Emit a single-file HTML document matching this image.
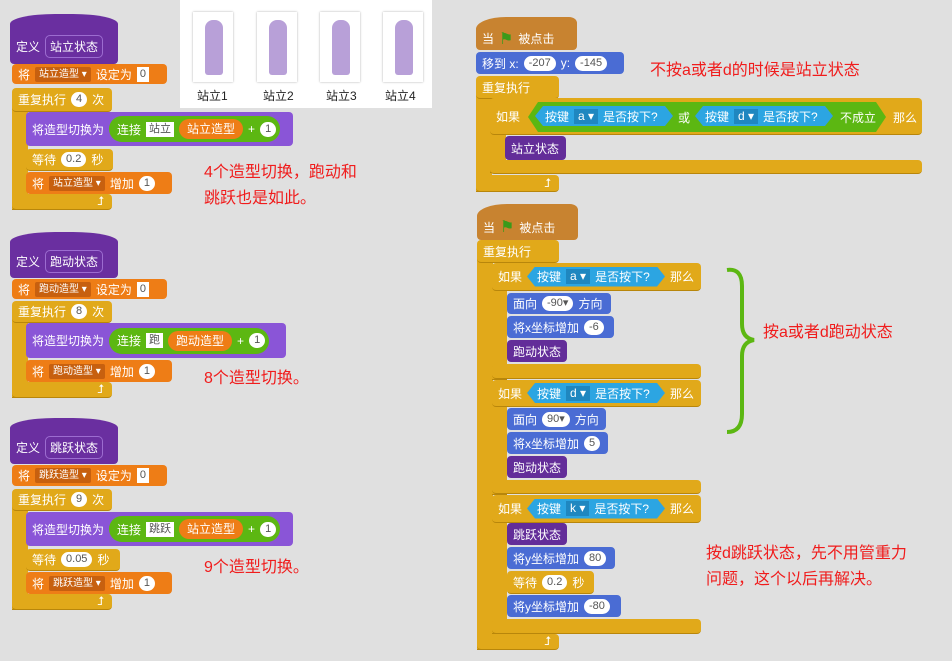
<!DOCTYPE html><html><head><meta charset="utf-8"><style>
body{margin:0;width:952px;height:661px;background:#e0e0e0;position:relative;overflow:hidden;font-family:"Liberation Sans","Noto Sans CJK SC",sans-serif;font-size:12px;color:#fff}
div,span{box-sizing:border-box}
.a{position:absolute}
.b{position:absolute;border-radius:4px;display:flex;align-items:center;padding-left:6px;white-space:nowrap;gap:5px;z-index:1}
.ctl{background:#e1a91a;border-bottom:1px solid #b8860b}
.var{background:#ee7d16}
.def{background:#6a2fa0}
.lk{background:#8a55d7}
.mo{background:#4a6cd4}
.ev{background:#c88330}
.cs{background:#632d99}
.n{background:#fff;color:#555;border-radius:8px;padding:0 5px;height:15px;line-height:15px;font-size:11px}
.sq{background:#fff;color:#555;padding:0 3px;height:15px;line-height:15px;font-size:11px}
.dd{background:#c7600f;color:#fff;padding:0 4px;height:15px;line-height:15px;font-size:10px;border-radius:2px}
.gr{background:#5cb712;border-radius:14px;height:26px;display:flex;align-items:center;padding:0 4px 0 8px;gap:5px}
.op{background:#ee7d16;border-radius:11px;height:20px;line-height:20px;padding:0 8px}
.sn{background:#2ca5e2;height:20px;display:flex;align-items:center;gap:5px;padding:0 10px;clip-path:polygon(8px 0,calc(100% - 8px) 0,100% 50%,calc(100% - 8px) 100%,8px 100%,0 50%)}
.kd{background:#1f87c0;padding:0 4px;height:15px;line-height:15px}
.red{position:absolute;color:#f01c1c;font-size:16px;line-height:26px}
</style></head><body>
<!-- pictures -->
<div class="a" style="left:180px;top:0;width:252px;height:108px;background:#fff"></div>
<div class="a" style="left:193px;top:12px;width:40px;height:70px;background:#fff;box-shadow:0 0 2px #aaa"></div>
<div class="a" style="left:257px;top:12px;width:40px;height:70px;background:#fff;box-shadow:0 0 2px #aaa"></div>
<div class="a" style="left:320px;top:12px;width:40px;height:70px;background:#fff;box-shadow:0 0 2px #aaa"></div>
<div class="a" style="left:383px;top:12px;width:40px;height:70px;background:#fff;box-shadow:0 0 2px #aaa"></div>
<div class="a" style="left:205px;top:20px;width:18px;height:55px;background:#b8a0d8;border-radius:8px 8px 3px 3px"></div>
<div class="a" style="left:269px;top:20px;width:18px;height:55px;background:#b8a0d8;border-radius:8px 8px 3px 3px"></div>
<div class="a" style="left:332px;top:20px;width:18px;height:55px;background:#b8a0d8;border-radius:8px 8px 3px 3px"></div>
<div class="a" style="left:395px;top:20px;width:18px;height:55px;background:#b8a0d8;border-radius:8px 8px 3px 3px"></div>
<div class="a" style="left:197px;top:87px;color:#222">站立1</div>
<div class="a" style="left:263px;top:87px;color:#222">站立2</div>
<div class="a" style="left:326px;top:87px;color:#222">站立3</div>
<div class="a" style="left:385px;top:87px;color:#222">站立4</div>

<!-- script 1 -->
<div class="b def" style="left:10px;top:14px;width:108px;height:50px;border-radius:45px 45px 4px 4px / 10px 10px 4px 4px;padding-top:14px">定义<span style="border:1px solid #9c6cd0;border-radius:5px;padding:2px 4px">站立状态</span></div>
<div class="b var" style="left:12px;top:64px;width:155px;height:20px">将 <span class="dd">站立造型 ▾</span>设定为<span class="sq">0</span></div>
<div class="b ctl" style="left:12px;top:88px;width:100px;height:24px">重复执行<span class="n">4</span>次</div>
<div class="a ctl" style="left:12px;top:100px;width:16px;height:110px"></div>
<div class="b ctl" style="left:12px;top:194px;width:100px;height:16px;justify-content:flex-end;padding-right:8px">⮥</div>
<div class="b lk" style="left:26px;top:112px;width:267px;height:34px">将造型切换为<div class="gr">连接<span class="sq">站立</span><span class="op">站立造型</span>+<span class="n">1</span></div></div>
<div class="b ctl" style="left:26px;top:149px;width:87px;height:22px">等待<span class="n">0.2</span>秒</div>
<div class="b var" style="left:26px;top:172px;width:146px;height:22px">将 <span class="dd">站立造型 ▾</span>增加<span class="n">1</span></div>

<!-- script 2 -->
<div class="b def" style="left:10px;top:232px;width:108px;height:46px;border-radius:45px 45px 4px 4px / 10px 10px 4px 4px;padding-top:12px">定义<span style="border:1px solid #9c6cd0;border-radius:5px;padding:2px 4px">跑动状态</span></div>
<div class="b var" style="left:12px;top:279px;width:155px;height:20px">将 <span class="dd">跑动造型 ▾</span>设定为<span class="sq">0</span></div>
<div class="b ctl" style="left:12px;top:301px;width:100px;height:22px">重复执行<span class="n">8</span>次</div>
<div class="a ctl" style="left:12px;top:310px;width:16px;height:88px"></div>
<div class="b ctl" style="left:12px;top:382px;width:100px;height:16px;justify-content:flex-end;padding-right:8px">⮥</div>
<div class="b lk" style="left:26px;top:323px;width:260px;height:35px">将造型切换为<div class="gr">连接<span class="sq">跑</span><span class="op">跑动造型</span>+<span class="n">1</span></div></div>
<div class="b var" style="left:26px;top:360px;width:146px;height:22px">将 <span class="dd">跑动造型 ▾</span>增加<span class="n">1</span></div>

<!-- script 3 -->
<div class="b def" style="left:10px;top:418px;width:108px;height:46px;border-radius:45px 45px 4px 4px / 10px 10px 4px 4px;padding-top:12px">定义<span style="border:1px solid #9c6cd0;border-radius:5px;padding:2px 4px">跳跃状态</span></div>
<div class="b var" style="left:12px;top:465px;width:155px;height:21px">将 <span class="dd">跳跃造型 ▾</span>设定为<span class="sq">0</span></div>
<div class="b ctl" style="left:12px;top:489px;width:100px;height:22px">重复执行<span class="n">9</span>次</div>
<div class="a ctl" style="left:12px;top:500px;width:16px;height:110px"></div>
<div class="b ctl" style="left:12px;top:594px;width:100px;height:16px;justify-content:flex-end;padding-right:8px">⮥</div>
<div class="b lk" style="left:26px;top:512px;width:267px;height:34px">将造型切换为<div class="gr">连接<span class="sq">跳跃</span><span class="op">站立造型</span>+<span class="n">1</span></div></div>
<div class="b ctl" style="left:26px;top:549px;width:94px;height:22px">等待<span class="n">0.05</span>秒</div>
<div class="b var" style="left:26px;top:572px;width:146px;height:22px">将 <span class="dd">跳跃造型 ▾</span>增加<span class="n">1</span></div>

<div class="red" style="left:204px;top:160px">4个造型切换，跑动和<br>跳跃也是如此。</div>
<div class="red" style="left:204px;top:366px">8个造型切换。</div>
<div class="red" style="left:204px;top:555px">9个造型切换。</div>

<!-- right script 1 -->
<div class="b ev" style="left:476px;top:17px;width:101px;height:33px;border-radius:30px 8px 4px 4px / 12px 6px 4px 4px;padding-top:10px">当 <span style="color:#3a9a1a;font-size:16px">⚑</span> 被点击</div>
<div class="b mo" style="left:476px;top:52px;width:148px;height:22px">移到 x:<span class="n">-207</span>y:<span class="n">-145</span></div>
<div class="b ctl" style="left:476px;top:76px;width:83px;height:23px">重复执行</div>
<div class="a ctl" style="left:476px;top:90px;width:16px;height:102px"></div>
<div class="b ctl" style="left:476px;top:175px;width:83px;height:17px;justify-content:flex-end;padding-right:8px">⮥</div>
<div class="b ctl" style="left:490px;top:98px;width:432px;height:37px">如果<div class="a" style="left:38px;top:4px;width:358px;height:30px;background:#5cb712;clip-path:polygon(10px 0,calc(100% - 10px) 0,100% 50%,calc(100% - 10px) 100%,10px 100%,0 50%)"></div>
<div class="a sn" style="left:45px;top:8px;width:138px">按键<span class="kd">a ▾</span>是否按下?</div><span class="a" style="left:188px;top:11px">或</span>
<div class="a sn" style="left:205px;top:8px;width:138px">按键<span class="kd">d ▾</span>是否按下?</div><span class="a" style="left:350px;top:11px">不成立</span><span class="a" style="left:403px;top:11px">那么</span></div>
<div class="a ctl" style="left:490px;top:130px;width:16px;height:43px"></div>
<div class="b cs" style="left:505px;top:136px;width:61px;height:24px">站立状态</div>
<div class="b ctl" style="left:490px;top:160px;width:432px;height:14px"></div>
<div class="red" style="left:650px;top:58px">不按a或者d的时候是站立状态</div>

<!-- right script 2 -->
<div class="b ev" style="left:477px;top:204px;width:101px;height:36px;border-radius:30px 8px 4px 4px / 12px 6px 4px 4px;padding-top:10px">当 <span style="color:#3a9a1a;font-size:16px">⚑</span> 被点击</div>
<div class="b ctl" style="left:477px;top:240px;width:82px;height:23px">重复执行</div>
<div class="a ctl" style="left:477px;top:255px;width:16px;height:395px"></div>
<div class="b ctl" style="left:477px;top:634px;width:82px;height:16px;justify-content:flex-end;padding-right:8px">⮥</div>

<div class="b ctl" style="left:492px;top:263px;width:209px;height:28px">如果<div class="sn" style="width:138px">按键<span class="kd">a ▾</span>是否按下?</div>那么</div>
<div class="a ctl" style="left:492px;top:285px;width:15px;height:95px"></div>
<div class="b mo" style="left:507px;top:293px;width:104px;height:21px">面向<span class="n">-90▾</span>方向</div>
<div class="b mo" style="left:507px;top:316px;width:107px;height:22px">将x坐标增加<span class="n">-6</span></div>
<div class="b cs" style="left:507px;top:340px;width:60px;height:22px">跑动状态</div>
<div class="b ctl" style="left:492px;top:364px;width:209px;height:15px"></div>

<div class="b ctl" style="left:492px;top:380px;width:209px;height:27px">如果<div class="sn" style="width:138px">按键<span class="kd">d ▾</span>是否按下?</div>那么</div>
<div class="a ctl" style="left:492px;top:400px;width:15px;height:95px"></div>
<div class="b mo" style="left:507px;top:408px;width:99px;height:22px">面向<span class="n">90▾</span>方向</div>
<div class="b mo" style="left:507px;top:432px;width:101px;height:22px">将x坐标增加<span class="n">5</span></div>
<div class="b cs" style="left:507px;top:456px;width:60px;height:22px">跑动状态</div>
<div class="b ctl" style="left:492px;top:480px;width:209px;height:14px"></div>

<div class="b ctl" style="left:492px;top:495px;width:209px;height:28px">如果<div class="sn" style="width:138px">按键<span class="kd">k ▾</span>是否按下?</div>那么</div>
<div class="a ctl" style="left:492px;top:515px;width:15px;height:119px"></div>
<div class="b cs" style="left:507px;top:523px;width:60px;height:22px">跳跃状态</div>
<div class="b mo" style="left:507px;top:547px;width:108px;height:22px">将y坐标增加<span class="n">80</span></div>
<div class="b ctl" style="left:507px;top:571px;width:87px;height:23px">等待<span class="n">0.2</span>秒</div>
<div class="b mo" style="left:507px;top:595px;width:114px;height:22px">将y坐标增加<span class="n">-80</span></div>
<div class="b ctl" style="left:492px;top:619px;width:209px;height:15px"></div>

<svg class="a" style="left:720px;top:264px" width="40" height="175"><path d="M7 6 Q22 4 22 22 L22 60 Q22 74 34 76 Q22 78 22 92 L22 150 Q22 168 7 168" fill="none" stroke="#5cb712" stroke-width="4"/></svg>
<div class="red" style="left:763px;top:320px">按a或者d跑动状态</div>
<div class="red" style="left:706px;top:541px">按d跳跃状态，先不用管重力<br>问题，这个以后再解决。</div>
</body></html>
